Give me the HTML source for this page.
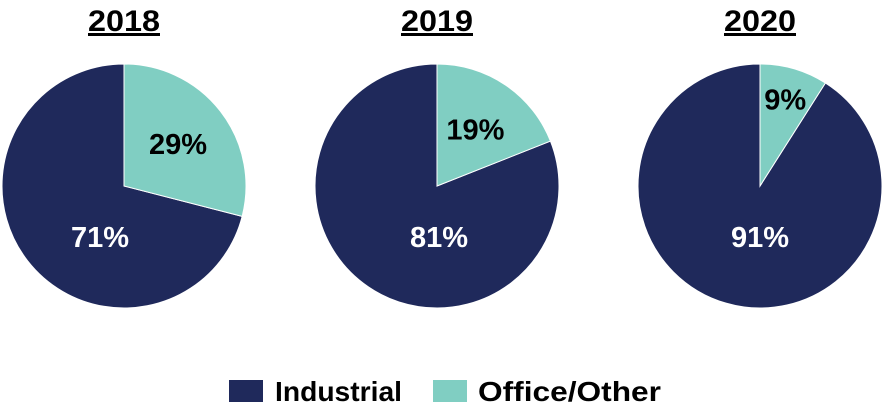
<!DOCTYPE html>
<html><head><meta charset="utf-8"><style>
html,body{margin:0;padding:0;background:#fff;width:882px;height:416px;overflow:hidden;font-family:"Liberation Sans",Arial,sans-serif}
</style></head><body>
<svg id="chart" width="882" height="416" xmlns="http://www.w3.org/2000/svg">
<g>
<rect x="229" y="380" width="34" height="22" fill="#1f295b"/>
<text x="275" y="401" font-size="28" font-weight="bold" fill="#000" textLength="127" lengthAdjust="spacingAndGlyphs">Industrial</text>
<rect x="433" y="380" width="34" height="22" fill="#80cec2"/>
<text x="478" y="401" font-size="28" font-weight="bold" fill="#000" textLength="183" lengthAdjust="spacingAndGlyphs">Office/Other</text>
</g>
</svg>
<script>
const years = ["2018","2019","2020"];
const officeShare = [29,19,9];
const industrialShare = [71,81,91];
const centersX = [124,437,760];
const cy = 186, r = 122;
const svg = document.getElementById('chart');
const NS = "http://www.w3.org/2000/svg";
function pt(cx, frac, rad){const a = frac*2*Math.PI - Math.PI/2; return [cx+rad*Math.cos(a), cy+rad*Math.sin(a)];}
function arc(cx, f0, f1){
  const p0=pt(cx,f0,r), p1=pt(cx,f1,r); const large=(f1-f0)>0.5?1:0;
  return `M${cx},${cy} L${p0[0]},${p0[1]} A${r},${r} 0 ${large} 1 ${p1[0]},${p1[1]} Z`;
}
years.forEach((y,i)=>{
  const cx = centersX[i];
  const total = officeShare[i]+industrialShare[i];
  const fo = officeShare[i]/total;
  const t = document.createElementNS(NS,'text');
  
  
  t.setAttribute('x',cx); t.setAttribute('y',31); t.setAttribute('text-anchor','middle');
  t.setAttribute('font-size','30'); t.setAttribute('font-weight','bold'); t.setAttribute('text-decoration','underline');
  t.setAttribute('textLength','72'); t.setAttribute('lengthAdjust','spacingAndGlyphs');
  t.textContent = y; svg.appendChild(t);
  const ind = document.createElementNS(NS,'path');
  
  
  ind.setAttribute('d',arc(cx,fo,1)); ind.setAttribute('fill','#1f295b'); ind.setAttribute('stroke','#fff'); ind.setAttribute('stroke-width','1');
  svg.appendChild(ind);
  const off = document.createElementNS(NS,'path');
  
  
  off.setAttribute('d',arc(cx,0,fo)); off.setAttribute('fill','#80cec2'); off.setAttribute('stroke','#fff'); off.setAttribute('stroke-width','1');
  svg.appendChild(off);
  const lo = pt(cx, fo/2, fo < 0.15 ? r*0.74 : r*0.56);
  const l1 = document.createElementNS(NS,'text');
  
  
  l1.setAttribute('x',lo[0]); l1.setAttribute('y',lo[1]+10); l1.setAttribute('text-anchor','middle');
  l1.setAttribute('font-size','29'); l1.setAttribute('font-weight','bold'); l1.setAttribute('fill','#000');
  l1.textContent = officeShare[i]+'%'; svg.appendChild(l1);
  const l2 = document.createElementNS(NS,'text');
  
  
  l2.setAttribute('x',cx-(i===0?24:(i===1?-2:0))); l2.setAttribute('y',247); l2.setAttribute('text-anchor','middle');
  l2.setAttribute('font-size','29'); l2.setAttribute('font-weight','bold'); l2.setAttribute('fill','#fff');
  l2.textContent = industrialShare[i]+'%'; svg.appendChild(l2);
});
</script>
</body></html>
